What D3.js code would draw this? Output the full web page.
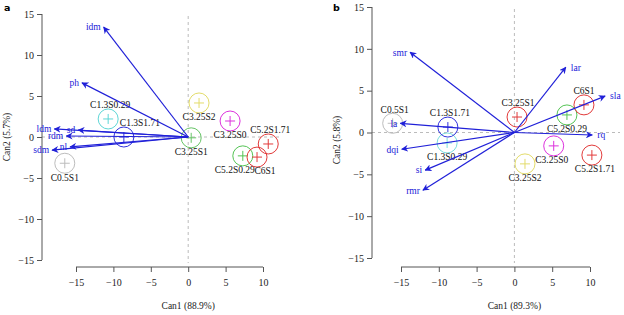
<!DOCTYPE html>
<html>
<head>
<meta charset="utf-8">
<script src="https://cdn.jsdelivr.net/npm/d3@7"></script>
<style>
  body { margin: 0; background: #fff; }
</style>
</head>
<body>
<div id="chart"></div>
<script>
// ---- panel a: group centroids + structure vectors ----
const groupsA = ["C0.5S1", "C1.3S0.29", "C1.3S1.71", "C3.25S0", "C3.25S1", "C3.25S2", "C5.2S0.29", "C5.2S1.71", "C6S1"];
const canA1 = [-16.5, -10.7, -8.6, 5.6, 0.4, 1.45, 7.3, 10.7, 9.2];
const canA2 = [-3.2, 2.2, 0.0, 1.95, -0.1, 4.15, -2.3, -0.85, -2.45];
const varsA = ["idm", "ph", "ldm", "sd", "rdm", "sdm", "nl"];
const vecA1 = [-11.3, -14.2, -17.9, -14.7, -16.3, -18.2, -15.8];
const vecA2 = [13.4, 6.6, 0.98, 0.85, 0.12, -1.6, -1.2];

// ---- panel b ----
const groupsB = ["C0.5S1", "C1.3S0.29", "C1.3S1.71", "C3.25S0", "C3.25S1", "C3.25S2", "C5.2S0.29", "C5.2S1.71", "C6S1"];
const canB1 = [-16.1, -8.9, -8.8, 5.2, 0.35, 1.4, 6.95, 10.25, 9.2];
const canB2 = [1.1, -1.25, 0.65, -1.6, 1.85, -3.75, 2.1, -2.7, 3.3];
const varsB = ["smr", "la", "dqi", "si", "rmr", "lar", "sla", "rq"];
const vecB1 = [-13.8, -15.1, -14.9, -11.8, -12.1, 6.8, 12.0, 10.3];
const vecB2 = [9.6, 1.1, -2.0, -4.5, -6.9, 7.8, 4.35, -0.3];

const axisTicks = [-15, -10, -5, 0, 5, 10, 15];
const xTicks = [-15, -10, -5, 0, 5, 10];

// colours / label placement (style only)
const colorsA = ["#bdbdbd", "#5fd6d6", "#3333dd", "#dd33dd", "#66c466", "#e3dc6a", "#55c455", "#e23a3a", "#e23a3a"];
const colorsB = ["#bdbdbd", "#7adede", "#3333dd", "#dd33dd", "#e23a3a", "#e3dc6a", "#55c455", "#e23a3a", "#e23a3a"];
const placeA = [["below", 0], ["above", 2], ["above", 16], ["below", 0], ["below", 0], ["below", 0], ["below", -8], ["above", 2], ["below", 8]];
const placeB = [["above", 2], ["below", 0], ["above", 2], ["below", -2], ["above", 1], ["below", 0], ["below", 0], ["below", 3], ["above", 0]];

const serif = "Liberation Serif, Times New Roman, serif";
const arrowBlue = "#2020d8";

const svg = d3.select("#chart").append("svg")
    .attr("width", 624)
    .attr("height", 315)
    .attr("font-family", serif);

svg.append("defs").append("marker")
    .attr("id", "head")
    .attr("viewBox", "0 0 10 10")
    .attr("refX", 9).attr("refY", 5)
    .attr("markerWidth", 7).attr("markerHeight", 7)
    .attr("markerUnits", "userSpaceOnUse")
    .attr("orient", "auto")
    .append("path")
    .attr("d", "M0,0 L10,5 L0,10 L3,5 Z")
    .attr("fill", arrowBlue);

function drawPanel(p) {
    const g = svg.append("g");
    const x = d3.scaleLinear().domain([-15, 10]).range(p.xRange);
    const y = d3.scaleLinear().domain([-15, 15]).range(p.yRange);

    // reference lines through origin
    g.append("line")
        .attr("x1", x(0)).attr("x2", x(0))
        .attr("y1", p.yRange[1] + 2).attr("y2", p.xAxisY - 4)
        .attr("stroke", "#bbb").attr("stroke-dasharray", "3,3");
    g.append("line")
        .attr("x1", p.yAxisX).attr("x2", p.hEnd)
        .attr("y1", y(0)).attr("y2", y(0))
        .attr("stroke", "#bbb").attr("stroke-dasharray", "3,3");

    // axes (R style: detached, outward ticks)
    const yAxis = g.append("g")
        .attr("transform", `translate(${p.yAxisX},0)`)
        .call(d3.axisLeft(y).tickValues(axisTicks).tickSize(5).tickPadding(3).tickFormat(d3.format("d")));
    const xAxis = g.append("g")
        .attr("transform", `translate(0,${p.xAxisY})`)
        .call(d3.axisBottom(x).tickValues(xTicks).tickSize(5).tickPadding(7).tickFormat(d3.format("d")));
    [yAxis, xAxis].forEach(a => {
        a.attr("font-family", serif).attr("font-size", 10);
        a.select(".domain").remove();
        a.selectAll(".tick line").attr("stroke", "#555");
        a.selectAll(".tick text").attr("fill", "#222");
    });
    yAxis.append("line").attr("y1", y(15)).attr("y2", y(-15)).attr("stroke", "#555");
    xAxis.append("line").attr("x1", x(-15)).attr("x2", x(10)).attr("stroke", "#555");

    // axis titles
    g.append("text")
        .attr("x", x(0)).attr("y", 309)
        .attr("text-anchor", "middle").attr("font-size", 9.5).attr("fill", "#222")
        .text(p.xTitle);
    g.append("text")
        .attr("transform", `translate(${p.yTitleX},${p.yTitleY}) rotate(-90)`)
        .attr("text-anchor", "middle").attr("font-size", 9.5).attr("fill", "#222")
        .text(p.yTitle);

    // panel letter
    g.append("text")
        .attr("x", p.letterX).attr("y", 11)
        .attr("font-size", 9.5).attr("font-weight", "bold")
        .attr("font-family", "DejaVu Sans, sans-serif")
        .text(p.letter);

    // group circles
    const groups = p.groups.map((name, i) => ({
        name, c1: p.c1[i], c2: p.c2[i], color: p.colors[i], place: p.place[i]
    }));
    const gg = g.selectAll("g.grp").data(groups).join("g").attr("class", "grp")
        .attr("transform", d => `translate(${x(d.c1)},${y(d.c2)})`);
    gg.append("circle")
        .attr("r", 10)
        .attr("fill", "none")
        .attr("stroke", d => d.color)
        .attr("stroke-width", 1);
    gg.append("path")
        .attr("d", "M-5,0H5M0,-5V5")
        .attr("stroke", d => d.color)
        .attr("stroke-width", 1);
    gg.append("text")
        .attr("x", d => d.place[1])
        .attr("y", d => d.place[0] === "above" ? -14 : 14)
        .attr("dy", "0.35em")
        .attr("text-anchor", "middle")
        .attr("font-size", 9.5)
        .attr("fill", "#111")
        .text(d => d.name);

    // structure vectors
    const vecs = p.vars.map((name, i) => ({ name, v1: p.v1[i], v2: p.v2[i] }));
    g.selectAll("line.vec").data(vecs).join("line").attr("class", "vec")
        .attr("x1", x(0)).attr("y1", y(0))
        .attr("x2", d => x(d.v1)).attr("y2", d => y(d.v2))
        .attr("stroke", arrowBlue).attr("stroke-width", 1.2)
        .attr("marker-end", "url(#head)");
    g.selectAll("text.vec").data(vecs).join("text").attr("class", "vec")
        .attr("x", d => x(d.v1) + (d.v1 < 0 ? -3 : 5))
        .attr("y", d => y(d.v2))
        .attr("dy", "0.35em")
        .attr("text-anchor", d => d.v1 < 0 ? "end" : "start")
        .attr("font-size", 9.5)
        .attr("fill", arrowBlue)
        .text(d => d.name);
}

drawPanel({
    letter: "a", letterX: 4,
    xRange: [76, 263], yRange: [260, 14], yAxisX: 42, xAxisY: 267, hEnd: 282,
    xTitle: "Can1 (88.9%)", yTitle: "Can2 (5.7%)", yTitleX: 10, yTitleY: 137,
    groups: groupsA, c1: canA1, c2: canA2, colors: colorsA, place: placeA,
    vars: varsA, v1: vecA1, v2: vecA2
});
drawPanel({
    letter: "b", letterX: 333,
    xRange: [401, 590], yRange: [258, 7], yAxisX: 372, xAxisY: 267, hEnd: 620,
    xTitle: "Can1 (89.3%)", yTitle: "Can2 (5.8%)", yTitleX: 340, yTitleY: 140,
    groups: groupsB, c1: canB1, c2: canB2, colors: colorsB, place: placeB,
    vars: varsB, v1: vecB1, v2: vecB2
});
</script>
</body>
</html>
